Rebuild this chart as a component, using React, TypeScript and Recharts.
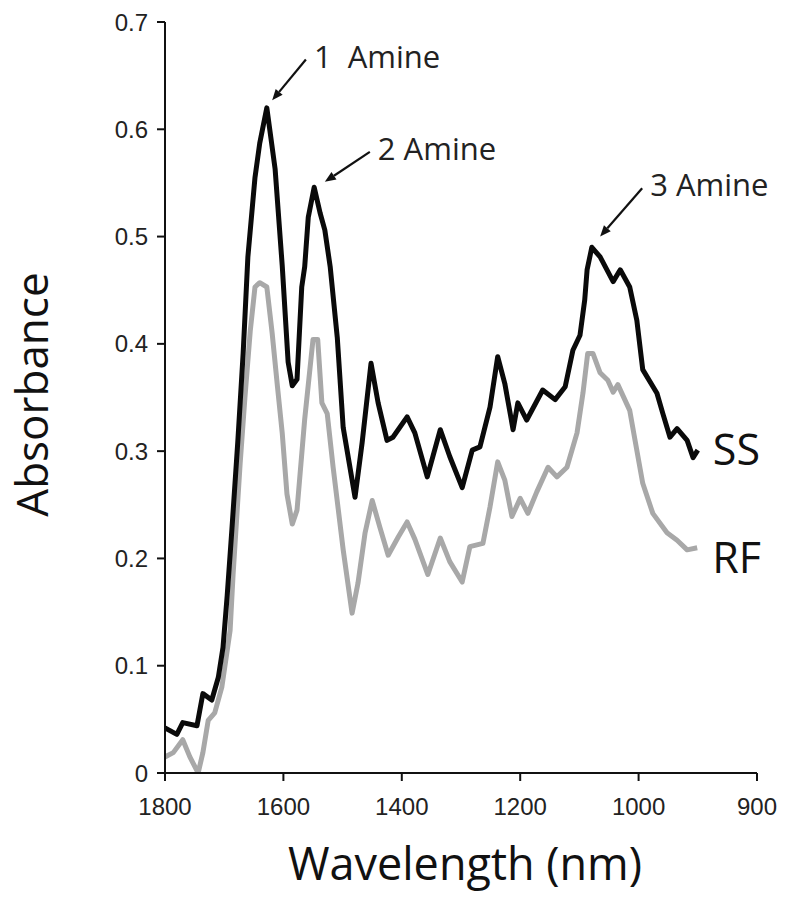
import React from 'react';
import {Label, Line, LineChart, ReferenceLine, XAxis, YAxis} from 'recharts';

// black trace (SS)
const ssWavelength = [
    1800, 1780, 1770, 1746, 1736, 1721, 1710, 1702, 1695, 1687, 1677, 1668, 1660, 1648, 1640, 1628,
    1614, 1602, 1592, 1585, 1577, 1569, 1564, 1558, 1548, 1538, 1530, 1521, 1509, 1499, 1479, 1467,
    1452, 1440, 1425, 1415, 1391, 1378, 1357, 1335, 1319, 1298, 1281, 1268, 1251, 1238, 1226, 1212,
    1204, 1189, 1162, 1141, 1124, 1111, 1099, 1091, 1087, 1079, 1065, 1043, 1031, 1015, 1003, 993,
    969, 959, 947, 935, 918, 908, 900,
];
const ssAbsorbance = [
    0.042, 0.036, 0.047, 0.044, 0.074, 0.068, 0.089, 0.117, 0.165, 0.227, 0.309, 0.391, 0.481, 0.555, 0.587, 0.62,
    0.563, 0.473, 0.383, 0.361, 0.367, 0.453, 0.472, 0.518, 0.546, 0.522, 0.506, 0.472, 0.406, 0.322, 0.257, 0.308,
    0.382, 0.345, 0.31, 0.313, 0.332, 0.317, 0.276, 0.32, 0.295, 0.266, 0.301, 0.304, 0.341, 0.388, 0.363, 0.32,
    0.345, 0.329, 0.357, 0.348, 0.36, 0.394, 0.408, 0.441, 0.469, 0.49, 0.481, 0.458, 0.469, 0.453, 0.422, 0.376,
    0.354, 0.335, 0.313, 0.321, 0.31, 0.294, 0.301,
];

// grey trace (RF)
const rfWavelength = [
    1800, 1786, 1770, 1758, 1744, 1736, 1727, 1716, 1704, 1690, 1685, 1673, 1665, 1656, 1648, 1640,
    1628, 1619, 1610, 1602, 1594, 1585, 1577, 1564, 1550, 1542, 1535, 1526, 1516, 1499, 1484, 1474,
    1462, 1450, 1437, 1423, 1406, 1391, 1378, 1356, 1335, 1319, 1298, 1285, 1263, 1251, 1238, 1226,
    1214, 1200, 1187, 1172, 1153, 1138, 1121, 1104, 1094, 1086, 1077, 1065, 1052, 1043, 1035, 1015,
    1006, 993, 976, 952, 935, 918, 901,
];
const rfAbsorbance = [
    0.015, 0.019, 0.031, 0.015, 0.0, 0.019, 0.049, 0.056, 0.08, 0.133, 0.185, 0.289, 0.35, 0.412, 0.453, 0.457,
    0.453, 0.41, 0.36, 0.317, 0.26, 0.232, 0.245, 0.33, 0.404, 0.404, 0.345, 0.335, 0.285, 0.208, 0.149, 0.177,
    0.224, 0.254, 0.229, 0.203, 0.22, 0.234, 0.218, 0.185, 0.219, 0.197, 0.178, 0.211, 0.214, 0.248, 0.29, 0.273,
    0.239, 0.256, 0.242, 0.262, 0.285, 0.276, 0.285, 0.317, 0.354, 0.391, 0.391, 0.373, 0.366, 0.355, 0.362, 0.338,
    0.31, 0.27, 0.242, 0.224, 0.217, 0.208, 0.21,
];

const wavelengthTicks = [1800, 1600, 1400, 1200, 1000, 800];
const wavelengthTickLabels = ['1800', '1600', '1400', '1200', '1000', '900'];
const absorbanceTicks = [0, 0.1, 0.2, 0.3, 0.4, 0.5, 0.6, 0.7];
const absorbanceTickLabels = ['0', '0.1', '0.2', '0.3', '0.4', '0.5', '0.6', '0.7'];

// peak annotations: arrow tail (where the text sits) and tip, in data units
const peakLabels = ['1  Amine', '2 Amine', '3 Amine'];
const peakTail = [[1562, 0.665], [1454, 0.579], [994, 0.545]];
const peakTip = [[1619, 0.627], [1530, 0.551], [1065, 0.5]];

const ssData = ssWavelength.map((w, i) => ({wavelength: w, absorbance: ssAbsorbance[i]}));
const rfData = rfWavelength.map((w, i) => ({wavelength: w, absorbance: rfAbsorbance[i]}));

const textFont = '"Open Sans", sans-serif';
const tickFont = '"Liberation Sans", Arial, sans-serif';

const arrowShape = (label: string) => (props: any) => {
    const {x1, y1, x2, y2} = props;
    const dx = x2 - x1;
    const dy = y2 - y1;
    const len = Math.sqrt(dx * dx + dy * dy);
    const ux = dx / len;
    const uy = dy / len;
    const head = 11;
    const half = 4.5;
    const bx = x2 - ux * head;
    const by = y2 - uy * head;
    const pts = `${x2},${y2} ${bx - uy * half},${by + ux * half} ${bx + uy * half},${by - ux * half}`;
    return (
        <g>
            <line x1={x1} y1={y1} x2={bx} y2={by} stroke="#111" strokeWidth={2.2}/>
            <polygon points={pts} fill="#111"/>
            <text x={x1 + 8} y={y1 + 8} fontFamily={textFont} fontSize={31} fill="#222"
                  style={{whiteSpace: 'pre'}}>
                {label}
            </text>
        </g>
    );
};

const endLabel = (name: string, lastIndex: number, dy: number) => (props: any) => {
    const {x, y, index} = props;
    if (index !== lastIndex) return <g/>;
    return (
        <text x={x + 15} y={y + dy} fontFamily={textFont} fontSize={43} fill="#111">
            {name}
        </text>
    );
};

const YTitle = (props: any) => {
    const {viewBox} = props;
    const cx = viewBox.x - 57;
    const cy = viewBox.y + viewBox.height / 2 - 3;
    return (
        <text x={cx} y={cy} transform={`rotate(-90 ${cx} ${cy})`} textAnchor="middle"
              fontFamily={textFont} fontSize={44} fill="#111">
            Absorbance
        </text>
    );
};

const XTitle = (props: any) => {
    const {viewBox} = props;
    return (
        <text x={viewBox.x + viewBox.width / 2 + 4} y={880} textAnchor="middle"
              fontFamily={textFont} fontSize={45} fill="#111">
            Wavelength (nm)
        </text>
    );
};

const App: React.FC = () => {
    return (
        <div style={{position: 'absolute', left: 0, top: 0, width: 800, height: 897, background: '#fff'}}>
            <LineChart width={800} height={897} margin={{top: 22, right: 43, left: 105, bottom: 94}}>
                <XAxis
                    type="number"
                    dataKey="wavelength"
                    domain={[800, 1800]}
                    reversed
                    ticks={wavelengthTicks}
                    tickFormatter={(v: number) => wavelengthTickLabels[wavelengthTicks.indexOf(v)]}
                    height={30}
                    axisLine={{stroke: '#111', strokeWidth: 2}}
                    tickLine={{stroke: '#111', strokeWidth: 2}}
                    tickSize={8}
                    tickMargin={17}
                    tick={{fontFamily: tickFont, fontSize: 24, fill: '#222'}}
                    allowDataOverflow
                >
                    <Label content={<XTitle/>}/>
                </XAxis>
                <YAxis
                    type="number"
                    domain={[0, 0.7]}
                    ticks={absorbanceTicks}
                    tickFormatter={(v: number) => absorbanceTickLabels[absorbanceTicks.indexOf(v)]}
                    width={60}
                    axisLine={{stroke: '#111', strokeWidth: 2}}
                    tickLine={{stroke: '#111', strokeWidth: 2}}
                    tickSize={8}
                    tickMargin={9}
                    tick={{fontFamily: tickFont, fontSize: 24, fill: '#222'}}
                    allowDataOverflow
                >
                    <Label content={<YTitle/>}/>
                </YAxis>
                <Line
                    data={rfData}
                    dataKey="absorbance"
                    type="linear"
                    stroke="#a8a8a8"
                    strokeWidth={5}
                    strokeLinejoin="round"
                    dot={false}
                    isAnimationActive={false}
                    label={endLabel('RF', rfData.length - 1, 25)}
                />
                <Line
                    data={ssData}
                    dataKey="absorbance"
                    type="linear"
                    stroke="#0a0a0a"
                    strokeWidth={5}
                    strokeLinejoin="round"
                    dot={false}
                    isAnimationActive={false}
                    label={endLabel('SS', ssData.length - 1, 15)}
                />
                {peakLabels.map((label, i) => (
                    <ReferenceLine
                        key={label}
                        segment={[
                            {x: peakTail[i][0], y: peakTail[i][1]},
                            {x: peakTip[i][0], y: peakTip[i][1]},
                        ]}
                        ifOverflow="visible"
                        shape={arrowShape(label)}
                    />
                ))}
            </LineChart>
        </div>
    );
};

export default App;
